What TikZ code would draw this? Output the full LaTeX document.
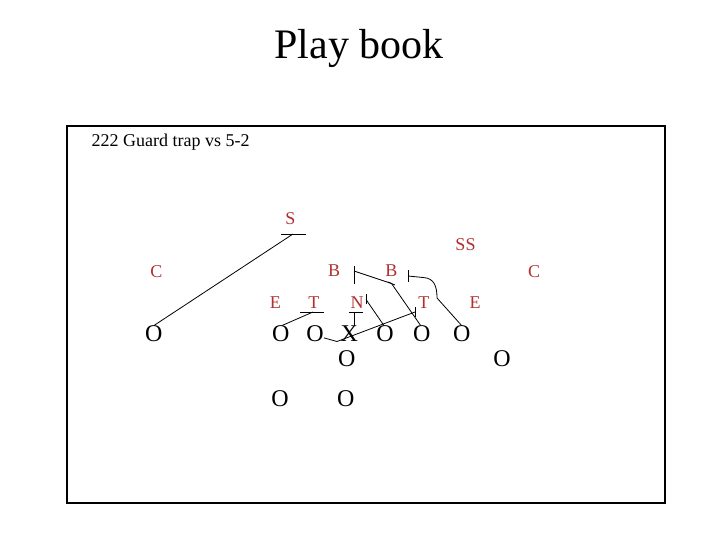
\documentclass[tikz,border=0pt]{standalone}
\usepackage{fontspec}
\setmainfont{Liberation Serif}
\definecolor{defred}{RGB}{176,48,48}
\begin{document}
\begin{tikzpicture}[x=1pt, y=-1pt,
    defense/.style={text=defred, font=\fontsize{18}{18}\selectfont, inner sep=0pt, anchor=base},
    offense/.style={font=\fontsize{24}{24}\selectfont, inner sep=0pt, anchor=base},
    route/.style={black, line width=0.8pt}]
      \useasboundingbox (0,0) rectangle (720,540);
      \node[anchor=base, font=\fontsize{42}{42}\selectfont] (title) at (359,59) {Play book};
      \draw[line width=2pt] (67,126) rectangle (665,503);
      \node[anchor=base west, inner sep=0pt, font=\fontsize{18}{18}\selectfont] (play) at (91.5,147) {222 Guard trap vs 5-2};
      
      % defense
      \foreach \name/\xpos/\ypos/\txt in {
        s/290.5/225/S, ss/465.5/250.5/SS, cl/156.5/277/C, cr/534/277/C,
        bl/334/276.7/B, br/391.3/276.7/B,
        el/275.3/308.3/E, tl/313.8/308.3/T, n/357/308.3/N, tr/423.8/308.3/T, er/475/308.3/E}
        \node[defense] (\name) at (\xpos,\ypos) {\txt};
      
      % offense
      \foreach \name/\xpos/\ypos/\txt in {
        se/153.8/341.7/O, o1/280.8/341.7/O, o2/315/341.7/O, ctr/349.2/341.7/X,
        o4/385/341.7/O, o5/421.7/341.7/O, o6/461.7/341.7/O,
        qb/346.7/366/O, fl/502/366.7/O, hb1/280/406/O, hb2/345.7/406/O}
        \node[offense] (\name) at (\xpos,\ypos) {\txt};
      
      % blocks
      \coordinate (sblk) at (293,234);
      \coordinate (tlblk) at (313,312);
      \coordinate (nblk) at (354,312);
      \coordinate (ntick) at (366,299.5);
      \coordinate (bltick) at (354,271);
      \coordinate (brblk) at (391.5,283.5);
      \coordinate (trap) at (415,312);
      \coordinate (brtick) at (408,276);
      
      \draw[route] ([xshift=-12pt]sblk) -- ([xshift=13pt]sblk);
      \draw[route] (sblk) -- (se.north);
      \draw[route] ([xshift=-13pt]tlblk) -- ([xshift=11pt]tlblk);
      \draw[route] (tlblk) -- ([xshift=1pt]o1.north);
      \draw[route] ([xshift=-5pt]nblk) -- ([xshift=9pt]nblk);
      \draw[route] (nblk) -- (nblk |- ctr.north);
      \draw[route] ([yshift=-4.5pt]ntick) -- ([yshift=5.5pt]ntick);
      \draw[route] (ntick) -- ([xshift=-1pt]o4.north);
      \draw[route] ([yshift=-13pt]bltick) -- ([yshift=5pt]bltick);
      \draw[route] (bltick) -- (brblk) -- ([xshift=-1pt]o5.north);
      \draw[route] ([xshift=-3.5pt,yshift=1.5pt]brblk) -- ([xshift=3.5pt,yshift=-1.5pt]brblk);
      \draw[route] ([yshift=-5pt]trap) -- ([yshift=5pt]trap);
      \draw[route] ([yshift=-4pt]o2.east) -- (337,341.5) -- (trap);
      \draw[route] ([yshift=-6pt]brtick) -- ([yshift=6pt]brtick);
      \draw[route] (brtick) -- (423,277.5) .. controls (434,278) and (437,286) .. (437,298) -- (o6.north);
    \end{tikzpicture}
\end{document}
